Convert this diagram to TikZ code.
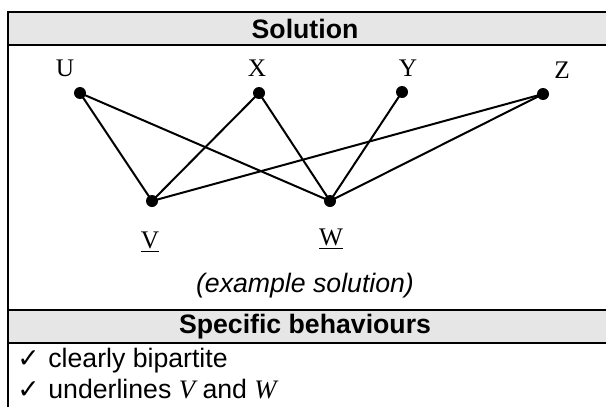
\documentclass[tikz,border=0pt]{standalone}
\usepackage{fontspec}
\setmainfont{Liberation Sans}
\newfontfamily\labelfont{Liberation Serif}
\newfontfamily\symfont{DejaVu Sans}
\definecolor{headgray}{HTML}{E6E6E6}

\tikzset{
  dot/.style={circle,fill=black,inner sep=0pt,minimum size=9pt},
  vlabel/.style={font=\labelfont\fontsize{19}{22}\selectfont,inner sep=0pt},
  edge/.style={line width=1.5pt},
  rule/.style={line width=1.7pt},
  cell/.style={font=\fontsize{20}{24}\selectfont,inner sep=0pt}
}

\begin{document}
\begin{tikzpicture}[x=0.75pt,y=-0.75pt]
\useasboundingbox (0,0) rectangle (606,407);

% shaded header rows
\fill[headgray] (8,12) rectangle (608,45);
\fill[headgray] (8,310) rectangle (608,343);

% table rules
\draw[line width=2.2pt] (8,407) -- (8,12) -- (608,12);
\draw[rule] (8,45) -- (608,45);
\draw[rule] (8,310) -- (608,310);
\draw[rule] (8,343) -- (608,343);

\node[cell,font=\bfseries\fontsize{20}{24}\selectfont] (sol) at (305,29) {Solution};
\node[cell,font=\bfseries\fontsize{20}{24}\selectfont] (spec) at (305,327) {Specific behaviours};
\node[cell,font=\itshape\fontsize{20}{24}\selectfont] (ex) at (305,286) {(example solution)};

\node[cell,anchor=base west] (b1) at (17,367) {{\symfont\bfseries\fontsize{20}{22}\selectfont ✓}\hspace{1pt} clearly bipartite};
\node[cell,anchor=base west] (b2) at (17,398) {{\symfont\bfseries\fontsize{20}{22}\selectfont ✓}\hspace{1pt} underlines {\labelfont\itshape V} and {\labelfont\itshape W}};

% vertices
\node[dot] (U) at (80,93) {};
\node[dot] (X) at (259,93) {};
\node[dot] (Y) at (402,92) {};
\node[dot] (Z) at (543,94) {};
\node[dot] (V) at (152,201) {};
\node[dot] (W) at (330,201) {};

\node[vlabel] (lU) at (65,68) {U};
\node[vlabel] (lX) at (257,68) {X};
\node[vlabel] (lY) at (408,68) {Y};
\node[vlabel] (lZ) at (562,70) {Z};
\node[vlabel] (lV) at (150,242) {\underline{V}};
\node[vlabel] (lW) at (331,239) {\underline{W}};

% edges
\draw[edge] (U.center) -- (V.center);
\draw[edge] (U.center) -- (W.center);
\draw[edge] (X.center) -- (V.center);
\draw[edge] (X.center) -- (W.center);
\draw[edge] (Y.center) -- (W.center);
\draw[edge] (Z.center) -- (V.center);
\draw[edge] (Z.center) -- (W.center);
\end{tikzpicture}
\end{document}
